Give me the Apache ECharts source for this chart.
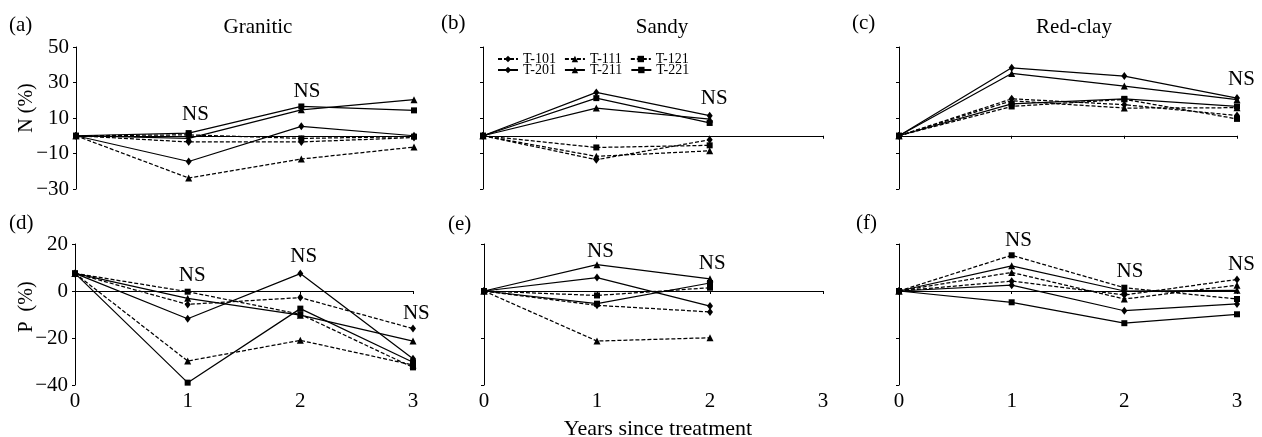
<!DOCTYPE html>
<html><head><meta charset="utf-8">
<script src="https://cdn.jsdelivr.net/npm/echarts@6/dist/echarts.min.js"></script>
<style>html,body{margin:0;padding:0;background:#fff}#c{width:1262px;height:437px}</style>
</head><body><div id="c"></div>
<script>
// ---------------- data ----------------
const years = [0, 1, 2, 3];
const yearsSandy = [0, 1, 2];
const treatments = ['T-101', 'T-111', 'T-121', 'T-201', 'T-211', 'T-221'];
const nTickValues = [-30, -10, 10, 30, 50];
const pTickValues = [-40, -20, 0, 20];
const xTickLabels = ['0', '1', '2', '3'];

// (a) N (%) Granitic
const nGranitic_T101 = [0, -3.5, -3.5, -1];
const nGranitic_T111 = [0, -23.8, -13.1, -6.4];
const nGranitic_T121 = [0, 0.5, -1.5, -0.5];
const nGranitic_T201 = [0, -14.5, 5.3, 0];
const nGranitic_T211 = [0, -1.5, 14.6, 20.3];
const nGranitic_T221 = [0, 1.5, 16.5, 14.3];
// (b) N (%) Sandy
const nSandy_T101 = [0, -13.5, -2.3];
const nSandy_T111 = [0, -11.6, -8.5];
const nSandy_T121 = [0, -6.6, -5.4];
const nSandy_T201 = [0, 24.4, 11.3];
const nSandy_T211 = [0, 15.6, 9.4];
const nSandy_T221 = [0, 21.2, 7.2];
// (c) N (%) Red-clay
const nRedclay_T101 = [0, 20.8, 17.5, 11.4];
const nRedclay_T111 = [0, 19.7, 15.6, 15.8];
const nRedclay_T121 = [0, 16.5, 20.5, 9.5];
const nRedclay_T201 = [0, 38.3, 33.6, 21.2];
const nRedclay_T211 = [0, 35.1, 28, 20.3];
const nRedclay_T221 = [0, 18, 20.8, 16.5];
// (d) P (%) Granitic
const pGranitic_T101 = [7.5, -5.7, -2.8, -16];
const pGranitic_T111 = [7.5, -29.8, -21, -31.5];
const pGranitic_T121 = [7.5, -0.3, -9.9, -32.5];
const pGranitic_T201 = [7.5, -11.8, 7.4, -28.8];
const pGranitic_T211 = [7.5, -3.1, -10.3, -21.3];
const pGranitic_T221 = [7.5, -39, -7.5, -30.3];
// (e) P (%) Sandy
const pSandy_T101 = [0, -6.1, -8.9];
const pSandy_T111 = [0, -21.3, -19.9];
const pSandy_T121 = [0, -1.9, 1.4];
const pSandy_T201 = [0, 5.7, -6.4];
const pSandy_T211 = [0, 11.2, 5.2];
const pSandy_T221 = [0, -5.4, 3.4];
// (f) P (%) Red-clay
const pRedclay_T101 = [0, 4.2, -1.7, 4.9];
const pRedclay_T111 = [0, 7.9, -3.4, 2.5];
const pRedclay_T121 = [0, 15.2, 1.4, -3.4];
const pRedclay_T201 = [0, 2.5, -8.4, -5.5];
const pRedclay_T211 = [0, 10.7, 0, 0.3];
const pRedclay_T221 = [0, -4.8, -13.7, -9.9];

// "NS" annotations (data coordinates: year, %)
const nsA = [[1.06, 11.8], [2.05, 24.8]];
const nsB = [[2.04, 20.8]];
const nsC = [[3.04, 31.5]];
const nsD = [[1.04, 6.4], [2.03, 14.5], [3.03, -9.4]];
const nsE = [[1.03, 17], [2.02, 11.5]];
const nsF = [[1.06, 21.5], [2.05, 8.4], [3.04, 11.4]];

// ---------------- styling / layout ----------------
const FONT = 'Liberation Serif';
const FS = 21;
const styleOf = {
  'T-101': { dash: true, symbol: 'diamond', size: [6, 8] },
  'T-111': { dash: true, symbol: 'triangle', size: 7 },
  'T-121': { dash: true, symbol: 'rect', size: 6 },
  'T-201': { dash: false, symbol: 'diamond', size: [6, 8] },
  'T-211': { dash: false, symbol: 'triangle', size: 7 },
  'T-221': { dash: false, symbol: 'rect', size: 6 }
};
const minus = v => String(v).replace('-', '\u2212');

const panels = [
  { grid: { left: 76, top: 47, width: 338, height: 142 }, x: years, min: -30, max: 50, ticks: nTickValues, showY: true, bottom: false,
    vals: [nGranitic_T101, nGranitic_T111, nGranitic_T121, nGranitic_T201, nGranitic_T211, nGranitic_T221], ns: nsA },
  { grid: { left: 483, top: 47, width: 340, height: 142 }, x: yearsSandy, min: -30, max: 50, ticks: nTickValues, showY: false, bottom: false,
    vals: [nSandy_T101, nSandy_T111, nSandy_T121, nSandy_T201, nSandy_T211, nSandy_T221], ns: nsB },
  { grid: { left: 899, top: 47, width: 338, height: 142 }, x: years, min: -30, max: 50, ticks: nTickValues, showY: false, bottom: false,
    vals: [nRedclay_T101, nRedclay_T111, nRedclay_T121, nRedclay_T201, nRedclay_T211, nRedclay_T221], ns: nsC },
  { grid: { left: 75, top: 244, width: 338, height: 141 }, x: years, min: -40, max: 20, ticks: pTickValues, showY: true, bottom: true,
    vals: [pGranitic_T101, pGranitic_T111, pGranitic_T121, pGranitic_T201, pGranitic_T211, pGranitic_T221], ns: nsD },
  { grid: { left: 484, top: 244, width: 339, height: 141 }, x: yearsSandy, min: -40, max: 20, ticks: pTickValues, showY: false, bottom: true,
    vals: [pSandy_T101, pSandy_T111, pSandy_T121, pSandy_T201, pSandy_T211, pSandy_T221], ns: nsE },
  { grid: { left: 899, top: 244, width: 338, height: 141 }, x: years, min: -40, max: 20, ticks: pTickValues, showY: false, bottom: true,
    vals: [pRedclay_T101, pRedclay_T111, pRedclay_T121, pRedclay_T201, pRedclay_T211, pRedclay_T221], ns: nsF }
];

const axisLineStyle = { color: '#000', width: 1 };
const grid = [], xAxis = [], yAxis = [], series = [];
panels.forEach((p, i) => {
  grid.push(p.grid);
  const xi = xAxis.length;
  if (p.bottom) {
    xAxis.push({ type: 'value', gridIndex: i, min: 0, max: 3, interval: 1, position: 'bottom',
      axisLine: { show: false, onZero: false }, axisTick: { show: false }, splitLine: { show: false },
      axisLabel: { show: true, color: '#000', fontFamily: FONT, fontSize: FS, margin: 6,
        formatter: v => xTickLabels[v] } });
    xAxis.push({ type: 'value', gridIndex: i, min: 0, max: 3, interval: 1, position: 'top',
      axisLine: { show: true, onZero: true, lineStyle: axisLineStyle },
      axisTick: { show: true, inside: true, length: 3, lineStyle: axisLineStyle },
      axisLabel: { show: false }, splitLine: { show: false } });
  } else {
    xAxis.push({ type: 'value', gridIndex: i, min: 0, max: 3, interval: 1, position: 'bottom',
      axisLine: { show: true, onZero: true, lineStyle: axisLineStyle },
      axisTick: { show: true, length: 3, lineStyle: axisLineStyle },
      axisLabel: { show: false }, splitLine: { show: false } });
  }
  yAxis.push({ type: 'value', gridIndex: i, min: p.min, max: p.max,
    axisLine: { show: true, onZero: false, lineStyle: axisLineStyle },
    axisTick: { show: true, length: 3, customValues: p.ticks, lineStyle: axisLineStyle },
    axisLabel: { show: p.showY, customValues: p.ticks, color: '#000', fontFamily: FONT, fontSize: FS, margin: 7, formatter: minus },
    splitLine: { show: false } });
  p.vals.forEach((vals, k) => {
    const t = treatments[k], st = styleOf[t];
    series.push({ type: 'line', name: t, xAxisIndex: xi, yAxisIndex: i,
      data: p.x.map((x, j) => [x, vals[j]]),
      symbol: st.symbol, symbolSize: st.size, showSymbol: true,
      lineStyle: { color: '#000', width: 1.25, type: st.dash ? [4, 2] : 'solid' },
      itemStyle: { color: '#000' }, emphasis: { disabled: true }, z: 3 });
  });
  series.push({ type: 'scatter', xAxisIndex: xi, yAxisIndex: i, data: p.ns, clip: false, silent: true,
    symbol: 'circle', symbolSize: 0, itemStyle: { color: '#000' }, z: 5, emphasis: { disabled: true },
    label: { show: true, position: 'inside', formatter: 'NS', color: '#000', opacity: 1,
      textBorderWidth: 0, fontFamily: FONT, fontSize: FS } });
});

const legendBase = { left: 497, padding: 0, itemWidth: 20, itemHeight: 8, itemGap: 8, selectedMode: false,
  textStyle: { color: '#000', fontFamily: FONT, fontSize: 14, lineHeight: 11 } };

const txt = (text, x, y) => ({ type: 'text', x, y, silent: true,
  style: { text, fill: '#000', font: FS + 'px "' + FONT + '"', align: 'left', verticalAlign: 'middle' } });
const ctxt = (text, x, y, rot, fs) => ({ type: 'text', x, y, rotation: rot || 0, silent: true,
  style: { text, fill: '#000', font: (fs || FS) + 'px "' + FONT + '"', align: 'center', verticalAlign: 'middle' } });

const option = {
  animation: false,
  backgroundColor: '#fff',
  color: ['#000'],
  grid, xAxis, yAxis, series,
  legend: [
    Object.assign({}, legendBase, { top: 52, data: ['T-101', 'T-111', 'T-121'] }),
    Object.assign({}, legendBase, { top: 63, data: ['T-201', 'T-211', 'T-221'] })
  ],
  graphic: [
    txt('(a)', 9, 25), txt('(b)', 441, 23), txt('(c)', 852, 23),
    txt('(d)', 9, 223), txt('(e)', 448, 224), txt('(f)', 856, 223),
    ctxt('Granitic', 258, 27), ctxt('Sandy', 662, 27), ctxt('Red-clay', 1074, 27),
    ctxt('N (%)', 27, 108, Math.PI / 2, 20), ctxt('P  (%)', 27, 307, Math.PI / 2, 20),
    ctxt('Years since treatment', 658, 429, 0, 22)
  ]
};

const chart = echarts.init(document.getElementById('c'), null, { renderer: 'canvas' });
chart.setOption(option);
</script>
</body></html>
